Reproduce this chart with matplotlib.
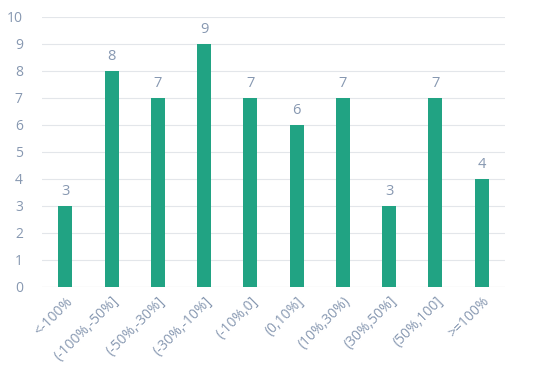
import matplotlib
matplotlib.use('Agg')
import matplotlib.pyplot as plt

cats = ['<-100%', '(-100%,-50%]', '(-50%,-30%]', '(-30%,-10%]', '(-10%,0]',
        '(0,10%]', '(10%,30%)', '(30%,50%]', '(50%,100]', '>=100%']
counts = [3, 8, 7, 9, 7, 6, 7, 3, 7, 4]

plt.rcParams['font.family'] = ['Open Sans', 'DejaVu Sans']
txt = '#8798b1'
fig = plt.figure(figsize=(5.41, 3.77), dpi=100)
ax = fig.add_axes([0.078, 0.239, 0.855, 0.716])
x = list(range(len(cats)))
ax.bar(x, counts, width=0.3, color='#21a383', zorder=3)
for i, v in zip(x, counts):
    ax.text(i, v + 0.25, str(v), ha='center', va='bottom', color=txt, fontsize=10.5)
ax.set_xlim(-0.5, 9.5)
ax.set_ylim(0, 10)
ax.set_yticks(range(0, 11))
ax.grid(axis='y', color='#e3e6ea', linewidth=0.8, zorder=0)
for s in ax.spines.values():
    s.set_visible(False)
ax.axhline(0, color='#d9dde3', linewidth=0.8, zorder=2)
ax.tick_params(length=0, colors=txt, labelsize=10)
ax.tick_params(axis='y', pad=14)
ax.tick_params(axis='x', pad=5)
ax.set_xticks(x)
ax.set_xticklabels(cats, rotation=45, ha='right', rotation_mode='anchor')
fig.savefig('out.png', dpi=100)
